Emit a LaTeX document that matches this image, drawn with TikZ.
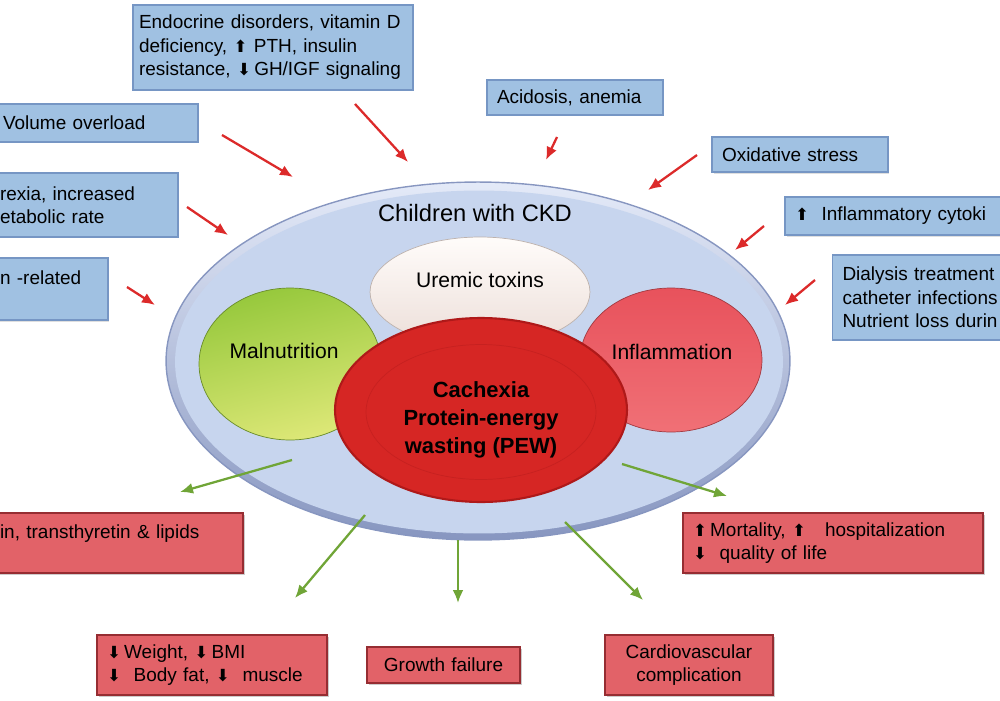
\documentclass[tikz,border=0pt]{standalone}
\usepackage{fontspec}
\setmainfont{Liberation Sans}
\newfontfamily\arrowfont{DejaVu Sans}
\usetikzlibrary{shapes.geometric,arrows.meta,shadows}

\definecolor{riskfill}{RGB}{160,193,226}
\definecolor{riskedge}{RGB}{118,150,196}
\definecolor{outfill}{RGB}{226,98,104}
\definecolor{outedge}{RGB}{150,45,50}
\definecolor{causearrow}{RGB}{220,42,42}
\definecolor{effectarrow}{RGB}{112,165,55}
\definecolor{ckdtop}{RGB}{228,234,248}
\definecolor{ckdbottom}{RGB}{135,150,192}
\definecolor{ckdcore}{RGB}{199,213,238}
\definecolor{malntop}{RGB}{150,200,60}
\definecolor{malnbottom}{RGB}{222,232,120}
\definecolor{uremtop}{RGB}{255,252,250}
\definecolor{urembottom}{RGB}{236,222,216}
\definecolor{inflamtop}{RGB}{232,82,92}
\definecolor{inflambottom}{RGB}{240,112,118}
\definecolor{pewfill}{RGB}{214,38,36}
\definecolor{pewedge}{RGB}{175,25,25}

\newcommand{\arup}{{\arrowfont\fontsize{9.5}{10}\selectfont ⬆}}
\newcommand{\ardown}{{\arrowfont\fontsize{9.5}{10}\selectfont ⬇}}
\newcommand{\boxfont}{\fontsize{10.8}{13.4}\selectfont}

\tikzset{
  riskbox/.style={rectangle, draw=riskedge, fill=riskfill, line width=0.9pt,
    inner xsep=0.2cm, inner ysep=0pt, align=left, font=\boxfont,
    drop shadow={shadow xshift=0.03cm, shadow yshift=-0.03cm, opacity=0.25}},
  outbox/.style={rectangle, draw=outedge, fill=outfill, line width=0.9pt,
    inner xsep=0.2cm, inner ysep=0pt, align=left, font=\boxfont,
    drop shadow={shadow xshift=0.04cm, shadow yshift=-0.04cm, opacity=0.4}},
  blob/.style={ellipse, inner sep=0pt},
  bloblabel/.style={font=\fontsize{12}{14}\selectfont},
  cause/.style={draw=causearrow, line width=1.3pt, -{Latex[length=2.6mm, width=2.2mm]}},
  effect/.style={draw=effectarrow, line width=1.3pt, -{Latex[length=2.6mm, width=2.2mm]}}
}

\begin{document}
\begin{tikzpicture}[x=0.02cm, y=-0.02cm]
  \useasboundingbox (0,0) rectangle (1000,700);
  \clip (0,0) rectangle (1000,700);

  % Children with CKD
  \node[blob, minimum width=12.48cm, minimum height=7.16cm, draw=ckdbottom,
    line width=0.8pt, top color=ckdtop, bottom color=ckdbottom] (ckd) at (478,361) {};
  \node[blob, minimum width=12.16cm, minimum height=6.86cm, fill=ckdcore] (ckdcore) at (479,362) {};
  \node[font=\fontsize{13.5}{16}\selectfont] (ckdlabel) at (475,213) {Children with CKD};

  % Overlapping conditions
  \node[blob, minimum width=3.64cm, minimum height=3.04cm, draw=malntop!70!black,
    line width=0.4pt, top color=malntop, bottom color=malnbottom, shading angle=15] (maln) at (290,364) {};
  \node[blob, minimum width=3.64cm, minimum height=2.88cm, draw=inflamtop!70!black,
    line width=0.4pt, top color=inflamtop, bottom color=inflambottom] (inflam) at (671,360) {};
  \node[blob, minimum width=4.4cm, minimum height=2.2cm, draw=urembottom!80!black,
    line width=0.4pt, top color=uremtop, bottom color=urembottom] (uremic) at (480,292) {};
  \node[blob, minimum width=5.84cm, minimum height=3.68cm, draw=pewedge,
    line width=1.2pt, fill=pewfill] (pew) at (481,410) {};
  \node[blob, minimum width=4.6cm, minimum height=2.7cm, draw=pewedge!40!pewfill,
    line width=0.4pt] (pewring) at (481,412) {};

  \node[bloblabel] (malnlabel) at (284,351) {Malnutrition};
  \node[bloblabel] (uremiclabel) at (480,280) {Uremic toxins};
  \node[bloblabel] (inflamlabel) at (672,352) {Inflammation};
  \node[font=\fontsize{12.5}{16}\selectfont\bfseries, align=center] (pewlabel) at (481,420)
    {Cachexia\\Protein-energy\\wasting (PEW)};

  % Causes
  \node[riskbox, minimum width=5.6cm, minimum height=1.7cm, inner xsep=0.12cm, text width=5.36cm] (endo) at (273,47.5)
    {Endocrine disorders, vitamin D\\deficiency, \arup\ PTH, insulin\\resistance, \ardown\,GH/IGF signaling};
  \node[riskbox, minimum width=3.52cm, minimum height=0.7cm, text width=3.12cm] (acid) at (575,97.5)
    {Acidosis, anemia};
  \node[riskbox, minimum width=4.1cm, minimum height=0.76cm, text width=3.7cm] (volume) at (95.5,123)
    {Volume overload};
  \node[riskbox, minimum width=3.76cm, minimum height=1.28cm, text width=3.36cm] (anorexia) at (84,205)
    {rexia, increased\\etabolic rate};
  \node[riskbox, minimum width=2.36cm, minimum height=1.24cm, text width=1.96cm] (related) at (49,289)
    {n -related\\~};
  \node[riskbox, minimum width=3.52cm, minimum height=0.7cm, text width=3.12cm] (oxid) at (800,154.5)
    {Oxidative stress};
  \node[riskbox, minimum width=4.5cm, minimum height=0.76cm, text width=4.1cm] (cytok) at (897.5,216)
    {\arup\ \ Inflammatory cytoki};
  \node[riskbox, minimum width=4.14cm, minimum height=1.7cm, text width=3.74cm] (dialysis) at (936,297.5)
    {Dialysis treatment\\catheter infections\\Nutrient loss durin};

  % Consequences
  \node[outbox, minimum width=5.06cm, minimum height=1.2cm, text width=4.66cm] (lipids) at (116.5,543)
    {in, transthyretin \& lipids\\~};
  \node[outbox, minimum width=4.6cm, minimum height=1.2cm, text width=4.2cm] (weight) at (212,665)
    {\ardown\,Weight, \ardown\,BMI\\\ardown\ \ Body fat, \ardown\ \ muscle};
  \node[outbox, minimum width=3.06cm, minimum height=0.72cm, text width=2.66cm, align=center] (growth) at (443.5,665)
    {Growth failure};
  \node[outbox, minimum width=3.36cm, minimum height=1.2cm, text width=2.96cm, align=center] (cardio) at (689,665)
    {Cardiovascular\\complication};
  \node[outbox, minimum width=6cm, minimum height=1.2cm, text width=5.6cm] (mortality) at (833,543)
    {\arup\,Mortality, \arup\quad hospitalization\\\ardown\ \ quality of life};

  % Arrow ends
  \coordinate (endotail) at (355,104);   \coordinate (endohead) at (408,162);
  \coordinate (acidtail) at (557,137);   \coordinate (acidhead) at (546,160);
  \coordinate (oxidtail) at (697,155);   \coordinate (oxidhead) at (648,190);
  \coordinate (cytoktail) at (764,226);  \coordinate (cytokhead) at (735,250);
  \coordinate (dialtail) at (815,280);   \coordinate (dialhead) at (785,305);
  \coordinate (voltail) at (222,135);    \coordinate (volhead) at (293,177);
  \coordinate (anortail) at (187,207);   \coordinate (anorhead) at (228,235);
  \coordinate (reltail) at (127,287);    \coordinate (relhead) at (155,305);

  \coordinate (lipidtail) at (292,460);  \coordinate (lipidhead) at (180,492);
  \coordinate (weighttail) at (365,515); \coordinate (weighthead) at (295,598);
  \coordinate (growthtail) at (458,540); \coordinate (growthhead) at (458,603);
  \coordinate (cardiotail) at (565,522); \coordinate (cardiohead) at (643,600);
  \coordinate (morttail) at (622,464);   \coordinate (morthead) at (727,496);

  \foreach \a in {endo,acid,oxid,cytok,dial,vol,anor,rel}
    \draw[cause] (\a tail) -- (\a head);
  \foreach \a in {lipid,weight,growth,cardio,mort}
    \draw[effect] (\a tail) -- (\a head);
\end{tikzpicture}
\end{document}
